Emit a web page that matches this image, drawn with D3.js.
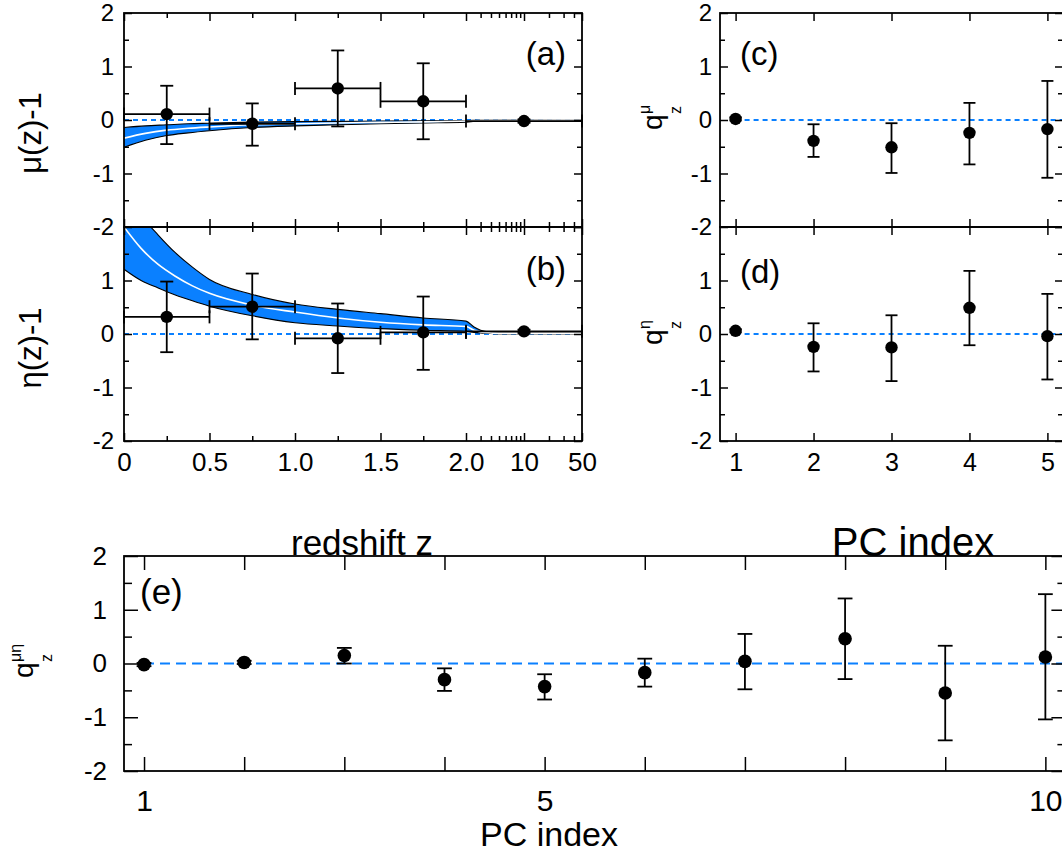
<!DOCTYPE html>
<html>
<head>
<meta charset="utf-8">
<script src="https://cdn.jsdelivr.net/npm/d3@7"></script>
<style>
  html, body { margin: 0; padding: 0; background: #fff; }
  svg { display: block; font-family: "Liberation Sans", Arial, Helvetica, sans-serif; }
</style>
</head>
<body>
<svg id="chart" width="1062" height="854"></svg>
<script>
// ---- Redshift-binned reconstructions (panels a, b) ----
const zCenter = [0.25, 0.75, 1.25, 1.75, 10];
const zBinLo  = [0, 0.5, 1.0, 1.5, 2.0];
const zBinHi  = [0.5, 1.0, 1.5, 2.0, 50];

const muVal   = [0.11, -0.07, 0.59, 0.35, -0.02];
const muUp    = [0.64, 0.31, 1.30, 1.06, 0.01];
const muLo    = [-0.45, -0.48, -0.12, -0.36, -0.05];

const etaVal  = [0.32, 0.51, -0.08, 0.03, 0.05];
const etaUp   = [0.98, 1.13, 0.57, 0.70, 0.08];
const etaLo   = [-0.34, -0.10, -0.73, -0.67, 0.02];

// 68% bands of the fitted model curves
const muBandZ     = [0, 0.125, 0.25, 0.375, 0.5, 0.75, 1.0, 1.25, 1.5, 1.75, 2.0, 3, 50];
const muBandUpper = [-0.14, -0.11, -0.09, -0.07, -0.06, -0.04, -0.03, -0.025, -0.02, -0.015, -0.01, 0, 0];
const muBandMid   = [-0.34, -0.25, -0.19, -0.155, -0.13, -0.09, -0.07, -0.055, -0.045, -0.035, -0.02, -0.005, 0];
const muBandLower = [-0.51, -0.38, -0.29, -0.24, -0.20, -0.14, -0.11, -0.09, -0.07, -0.055, -0.04, -0.01, 0];

const etaBandZ     = [0, 0.1, 0.2, 0.3, 0.4, 0.5, 0.75, 1.0, 1.25, 1.5, 1.75, 2.0, 2.5, 3, 4, 5, 50];
const etaBandUpper = [2.75, 2.22, 1.85, 1.52, 1.25, 1.02, 0.74, 0.56, 0.46, 0.38, 0.30, 0.24, 0.13, 0.07, 0.03, 0.02, 0.02];
const etaBandMid   = [2.0, 1.6, 1.3, 1.08, 0.9, 0.76, 0.54, 0.41, 0.30, 0.22, 0.17, 0.14, 0.07, 0.04, 0.02, 0.01, 0.01];
const etaBandLower = [1.21, 1.0, 0.86, 0.73, 0.62, 0.52, 0.34, 0.21, 0.15, 0.10, 0.07, 0.05, 0.03, 0.02, 0.01, 0.0, 0.0];

// ---- Principal component amplitudes (panels c, d, e) ----
const pc5 = [1, 2, 3, 4, 5];
const qMu     = [0.02, -0.39, -0.51, -0.24, -0.17];
const qMuUp   = [0.05, -0.08, -0.06, 0.32, 0.73];
const qMuLo   = [-0.01, -0.69, -0.99, -0.83, -1.08];
const qEta    = [0.06, -0.24, -0.25, 0.49, -0.04];
const qEtaUp  = [0.09, 0.20, 0.35, 1.18, 0.75];
const qEtaLo  = [0.03, -0.70, -0.88, -0.21, -0.85];

const pc10 = [1, 2, 3, 4, 5, 6, 7, 8, 9, 10];
const qMuEta   = [-0.02, 0.02, 0.15, -0.30, -0.43, -0.17, 0.04, 0.46, -0.55, 0.12];
const qMuEtaUp = [0.01, 0.05, 0.29, -0.09, -0.20, 0.09, 0.55, 1.21, 0.33, 1.29];
const qMuEtaLo = [-0.05, -0.01, 0.00, -0.51, -0.67, -0.43, -0.48, -0.29, -1.43, -1.04];

// tick definitions
const yMajor = [-2, -1, 0, 1, 2];
const yMinor = [-1.5, -0.5, 0.5, 1.5];
const zMajor = [0, 0.5, 1.0, 1.5, 2.0, 10, 50];
const zMajorLabels = ["0", "0.5", "1.0", "1.5", "2.0", "10", "50"];
const zMinor = [0.25, 0.75, 1.25, 1.75, 3, 4, 5, 6, 7, 8, 9, 20, 30, 40];
const pcLabelsE = [1, 5, 10];

const BLUE = "#0a80ff";
const FONT = '"Liberation Sans", Arial, Helvetica, sans-serif';
const intFmt = d => String(d);   // plain hyphen for negatives

const svg = d3.select("#chart");
svg.append("rect").attr("width", 1062).attr("height", 854).attr("fill", "#fff");

// ---- scales ----
// redshift axis: linear on [0,2], logarithmic on [2,50]
const zLin = d3.scaleLinear().domain([0, 2]).range([124, 466]);
const zLog = d3.scaleLog().domain([2, 50]).range([466, 582]);
function makeZScale() {
  const s = z => (z <= 2 ? zLin(z) : zLog(z));
  s.domain = () => [0, 50];
  s.range = () => [124, 582];
  s.copy = () => makeZScale();
  return s;
}
const xZ = makeZScale();

const yA = d3.scaleLinear().domain([-2, 2]).range([227, 13]);
const yB = d3.scaleLinear().domain([-2, 2]).range([441, 227]);
const xC = d3.scaleLinear().domain([0.8, 5.2]).range([720, 1063]);
const yC = yA, yD = yB;
const xE = d3.scaleLinear().domain([0.8, 10.2]).range([124, 1065.4]);
const yE = d3.scaleLinear().domain([-2, 2]).range([771, 556]);

// ---- helpers ----
function frame(x, y, opts) {
  const [x0, x1] = x.range();
  const [y1, y0] = y.range();
  const g = svg.append("g");
  const major = opts.major, minor = opts.minor;

  const addAxis = (axis, transform, fs, showLabels) => {
    const a = g.append("g").attr("transform", transform).call(axis);
    a.select(".domain").remove();
    a.selectAll("line").attr("stroke", "#000").attr("stroke-width", 1.5);
    a.selectAll("text").attr("font-family", FONT).attr("font-size", fs).attr("fill", "#000");
    if (!showLabels) a.selectAll("text").remove();
    return a;
  };
  // y axes
  addAxis(d3.axisLeft(y).tickValues(opts.yTicks).tickSize(-major).tickPadding(opts.yPad)
    .tickFormat(intFmt), `translate(${x0},0)`, opts.yFs, true);
  addAxis(d3.axisLeft(y).tickValues(yMinor).tickSize(-minor).tickFormat(""), `translate(${x0},0)`, 10, false);
  addAxis(d3.axisRight(y).tickValues(yMajor).tickSize(-major).tickFormat(""), `translate(${x1},0)`, 10, false);
  addAxis(d3.axisRight(y).tickValues(yMinor).tickSize(-minor).tickFormat(""), `translate(${x1},0)`, 10, false);
  // x axes
  addAxis(d3.axisBottom(x).tickValues(opts.xTicks).tickSize(-opts.xMajor).tickPadding(opts.xPad)
    .tickFormat(opts.xFmt), `translate(0,${y1})`, opts.xFs, opts.xLabels);
  addAxis(d3.axisTop(x).tickValues(opts.xTicks).tickSize(-opts.xMajor).tickFormat(""), `translate(0,${y0})`, 10, false);
  if (opts.xMinor) {
    addAxis(d3.axisBottom(x).tickValues(opts.xMinor).tickSize(-minor).tickFormat(""), `translate(0,${y1})`, 10, false);
    addAxis(d3.axisTop(x).tickValues(opts.xMinor).tickSize(-minor).tickFormat(""), `translate(0,${y0})`, 10, false);
  }
  g.append("rect").attr("x", x0).attr("y", y0).attr("width", x1 - x0).attr("height", y1 - y0)
    .attr("fill", "none").attr("stroke", "#000").attr("stroke-width", 1.8);
}

function clipFor(id, x, y) {
  const [x0, x1] = x.range();
  const [y1, y0] = y.range();
  svg.append("clipPath").attr("id", id).append("rect")
    .attr("x", x0).attr("y", y0).attr("width", x1 - x0).attr("height", y1 - y0);
}

function zeroLine(x, y, from, to, dash, clip) {
  svg.append("line")
    .attr("x1", x(from)).attr("x2", x(to)).attr("y1", y(0)).attr("y2", y(0))
    .attr("stroke", BLUE).attr("stroke-width", 1.8).attr("stroke-dasharray", dash)
    .attr("clip-path", clip ? `url(#${clip})` : null);
}

function band(x, y, zs, up, mid, lo, clip) {
  const g = svg.append("g").attr("clip-path", `url(#${clip})`);
  const idx = d3.range(zs.length);
  const area = d3.area().x(i => x(zs[i])).y0(i => y(lo[i])).y1(i => y(up[i])).curve(d3.curveMonotoneX);
  g.append("path").datum(idx).attr("d", area).attr("fill", BLUE);
  const line = arr => d3.line().x(i => x(zs[i])).y(i => y(arr[i])).curve(d3.curveMonotoneX)(idx);
  g.append("path").attr("d", line(up)).attr("fill", "none").attr("stroke", "#000").attr("stroke-width", 1.1);
  g.append("path").attr("d", line(lo)).attr("fill", "none").attr("stroke", "#000").attr("stroke-width", 1.1);
  g.append("path").attr("d", line(mid)).attr("fill", "none").attr("stroke", "#fff").attr("stroke-width", 1.6);
}

function points(x, y, xs, vals, ups, los, opts) {
  const g = svg.append("g");
  const cap = opts.cap, r = opts.r;
  xs.forEach((xv, i) => {
    const cx = x(xv);
    g.append("line").attr("x1", cx).attr("x2", cx).attr("y1", y(ups[i])).attr("y2", y(los[i]))
      .attr("stroke", "#000").attr("stroke-width", 1.8);
    [ups[i], los[i]].forEach(v => {
      g.append("line").attr("x1", cx - cap).attr("x2", cx + cap).attr("y1", y(v)).attr("y2", y(v))
        .attr("stroke", "#000").attr("stroke-width", 1.8);
    });
    if (opts.xLo) {
      const xl = x(opts.xLo[i]), xh = x(opts.xHi[i]), cy = y(vals[i]);
      g.append("line").attr("x1", xl).attr("x2", xh).attr("y1", cy).attr("y2", cy)
        .attr("stroke", "#000").attr("stroke-width", 1.8);
      [xl, xh].forEach(xx => {
        g.append("line").attr("x1", xx).attr("x2", xx).attr("y1", cy - cap).attr("y2", cy + cap)
          .attr("stroke", "#000").attr("stroke-width", 1.8);
      });
    }
    g.append("circle").attr("cx", cx).attr("cy", y(vals[i])).attr("r", r).attr("fill", "#000");
  });
}

function label(txt, x, y, size, anchor, rotate) {
  const t = svg.append("text").attr("font-family", FONT).attr("font-size", size)
    .attr("text-anchor", anchor || "start").attr("fill", "#000").text(txt);
  if (rotate) t.attr("transform", `translate(${x},${y}) rotate(-90)`);
  else t.attr("x", x).attr("y", y);
  return t;
}

// q with stacked superscript and subscript, rotated as a y-axis title
function qLabel(x, y, sup) {
  const g = svg.append("g").attr("transform", `translate(${x},${y}) rotate(-90)`)
    .attr("font-family", FONT).attr("fill", "#000");
  g.append("text").attr("x", 0).attr("y", 0).attr("font-size", 28).text("q");
  g.append("text").attr("x", 16).attr("y", -12).attr("font-size", 16).text(sup);
  g.append("text").attr("x", 16).attr("y", 19).attr("font-size", 16).text("z");
}

// ---- panels (a) and (b): redshift bins ----
clipFor("clipA", xZ, yA);
clipFor("clipB", xZ, yB);

zeroLine(xZ, yA, 0, 50, "5,4", "clipA");
band(xZ, yA, muBandZ, muBandUpper, muBandMid, muBandLower, "clipA");
points(xZ, yA, zCenter, muVal, muUp, muLo, { cap: 6.5, r: 6.2, xLo: zBinLo, xHi: zBinHi });

zeroLine(xZ, yB, 0, 50, "5,4", "clipB");
band(xZ, yB, etaBandZ, etaBandUpper, etaBandMid, etaBandLower, "clipB");
points(xZ, yB, zCenter, etaVal, etaUp, etaLo, { cap: 6.5, r: 6.2, xLo: zBinLo, xHi: zBinHi });

const zFmt = d => zMajorLabels[zMajor.indexOf(d)];
frame(xZ, yA, { major: 8, minor: 5, yTicks: yMajor, yPad: 10, yFs: 24,
  xTicks: zMajor, xMinor: zMinor, xMajor: 8, xPad: 12, xFs: 26, xFmt: zFmt, xLabels: false });
frame(xZ, yB, { major: 8, minor: 5, yTicks: [-2, -1, 0, 1], yPad: 10, yFs: 24,
  xTicks: zMajor, xMinor: zMinor, xMajor: 8, xPad: 12, xFs: 26, xFmt: zFmt, xLabels: true });

label("(a)", 566, 65, 33, "end");
label("(b)", 566, 280, 33, "end");
label("\u03bc(z)-1", 41, 133, 31, "middle", true);
label("\u03b7(z)-1", 41, 348, 31, "middle", true);
label("redshift z", 362, 555, 35, "middle");

// ---- panels (c) and (d): PCs of mu and eta separately ----
clipFor("clipC", xC, yC);
clipFor("clipD", xC, yD);
zeroLine(xC, yC, 1, 5.2, "5,4", "clipC");
zeroLine(xC, yD, 1, 5.2, "5,4", "clipD");
points(xC, yC, pc5, qMu, qMuUp, qMuLo, { cap: 6, r: 6.2 });
points(xC, yD, pc5, qEta, qEtaUp, qEtaLo, { cap: 6, r: 6.2 });

frame(xC, yC, { major: 8, minor: 5, yTicks: yMajor, yPad: 8, yFs: 24,
  xTicks: pc5, xMajor: 8, xPad: 12, xFs: 25, xFmt: intFmt, xLabels: false });
frame(xC, yD, { major: 8, minor: 5, yTicks: [-2, -1, 0, 1], yPad: 8, yFs: 24,
  xTicks: pc5, xMajor: 8, xPad: 12, xFs: 25, xFmt: intFmt, xLabels: true });

label("(c)", 740, 65, 33, "start");
label("(d)", 740, 283, 33, "start");
qLabel(662, 130, "\u03bc");
qLabel(662, 345, "\u03b7");
label("PC index", 913, 556, 40, "middle");

// ---- panel (e): joint PCs ----
clipFor("clipE", xE, yE);
zeroLine(xE, yE, 1, 10.2, "10,6", "clipE");
points(xE, yE, pc10, qMuEta, qMuEtaUp, qMuEtaLo, { cap: 7.4, r: 6.8 });

frame(xE, yE, { major: 14, minor: 8, yTicks: yMajor, yPad: 17, yFs: 26,
  xTicks: pc10, xMajor: 14, xPad: 19, xFs: 30, xFmt: d => (pcLabelsE.includes(d) ? d : ""), xLabels: true });

label("(e)", 140, 604, 35, "start");
qLabel(33, 678, "\u03bc\u03b7");
label("PC index", 549, 846, 34, "middle");
</script>
</body>
</html>
